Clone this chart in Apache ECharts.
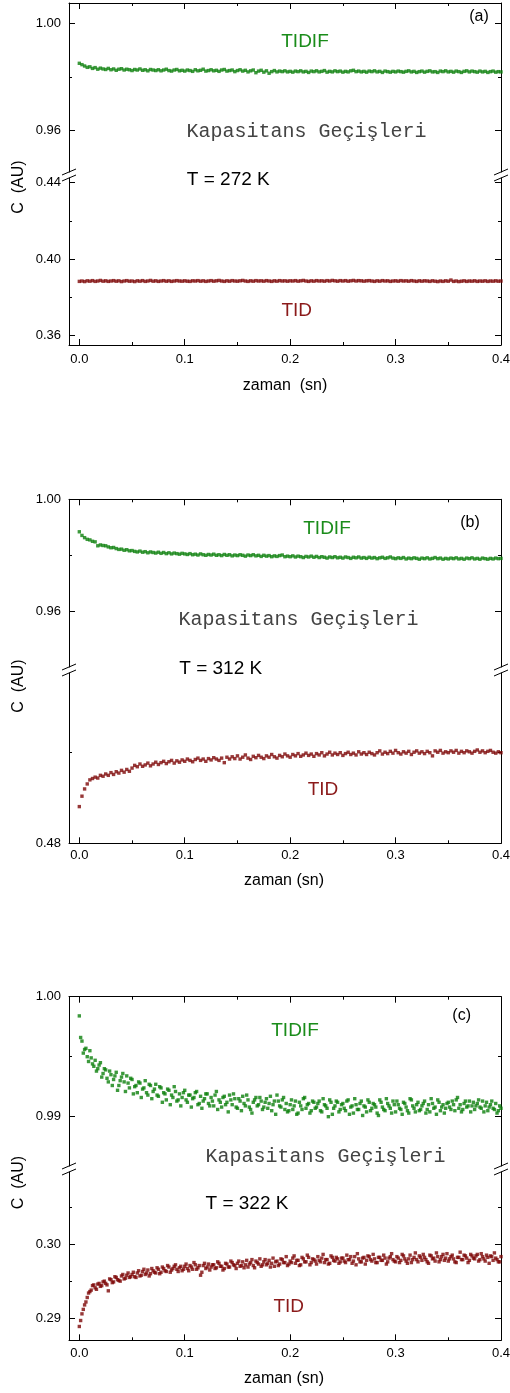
<!DOCTYPE html>
<html><head><meta charset="utf-8">
<script src="https://cdn.jsdelivr.net/npm/echarts@6/dist/echarts.min.js"></script>
<style>html,body{margin:0;padding:0;background:#fff;}#c{width:510px;height:1393px;}</style>
</head><body><div id="c"></div>
<script>
// ---------- DATA ----------
const STEP = 0.0025; // sampling interval (s)
const X_MAJOR = [0, 0.1, 0.2, 0.3, 0.4];
const X_MINOR = [0.05, 0.15, 0.25, 0.35];

const A_UP_MAJOR = [0.96, 1.00], A_UP_MINOR = [0.98];
const A_LO_MAJOR = [0.36, 0.40, 0.44], A_LO_MINOR = [0.38, 0.42];
const B_UP_MAJOR = [0.96, 1.00], B_UP_MINOR = [0.98];
const B_LO_MAJOR = [0.48], B_LO_MINOR = [0.50];
const C_UP_MAJOR = [0.99, 1.00], C_UP_MINOR = [0.995];
const C_LO_MAJOR = [0.29, 0.30], C_LO_MINOR = [0.295, 0.305];

const TIDIF_A = [
0.9851,0.9846,0.9841,0.9836,0.9838,0.9832,0.9835,0.9829,0.9833,0.9830,
0.9828,0.9832,0.9827,0.9830,0.9825,0.9829,0.9831,0.9826,0.9829,0.9827,
0.9824,0.9828,0.9826,0.9830,0.9825,0.9827,0.9823,0.9828,0.9826,0.9824,
0.9827,0.9823,0.9826,0.9829,0.9824,0.9822,0.9826,0.9828,0.9823,0.9825,
0.9822,0.9826,0.9824,0.9821,0.9827,0.9823,0.9825,0.9829,0.9822,0.9824,
0.9827,0.9823,0.9825,0.9821,0.9826,0.9828,0.9822,0.9824,0.9826,0.9820,
0.9824,0.9827,0.9822,0.9825,0.9819,0.9823,0.9826,0.9816,0.9822,0.9825,
0.9818,0.9823,0.9814,0.9820,0.9824,0.9819,0.9822,0.9820,0.9823,0.9819,
0.9821,0.9818,0.9822,0.9820,0.9823,0.9819,0.9821,0.9817,0.9822,0.9820,
0.9823,0.9819,0.9821,0.9824,0.9818,0.9821,0.9819,0.9823,0.9820,0.9822,
0.9818,0.9821,0.9819,0.9823,0.9825,0.9820,0.9822,0.9819,0.9821,0.9818,
0.9822,0.9820,0.9823,0.9819,0.9821,0.9817,0.9822,0.9820,0.9818,0.9821,
0.9819,0.9822,0.9820,0.9818,0.9821,0.9823,0.9819,0.9821,0.9817,0.9820,
0.9822,0.9818,0.9821,0.9823,0.9819,0.9820,0.9817,0.9822,0.9820,0.9823,
0.9819,0.9821,0.9818,0.9822,0.9820,0.9817,0.9821,0.9823,0.9819,0.9822,
0.9820,0.9818,0.9822,0.9819,0.9821,0.9817,0.9820,0.9822,0.9818,0.9820,
0.9819];

const TID_A = [
0.3884,0.3886,0.3883,0.3887,0.3885,0.3888,0.3884,0.3886,0.3889,0.3885,
0.3887,0.3884,0.3886,0.3888,0.3885,0.3887,0.3883,0.3886,0.3888,0.3885,
0.3886,0.3883,0.3887,0.3885,0.3888,0.3884,0.3886,0.3889,0.3885,0.3887,
0.3884,0.3886,0.3888,0.3885,0.3887,0.3884,0.3886,0.3888,0.3886,0.3885,
0.3887,0.3885,0.3884,0.3887,0.3886,0.3888,0.3885,0.3887,0.3884,0.3886,
0.3888,0.3885,0.3887,0.3889,0.3886,0.3884,0.3887,0.3885,0.3888,0.3886,
0.3885,0.3887,0.3889,0.3886,0.3884,0.3887,0.3885,0.3888,0.3886,0.3887,
0.3885,0.3888,0.3886,0.3884,0.3887,0.3885,0.3888,0.3886,0.3887,0.3885,
0.3887,0.3886,0.3888,0.3885,0.3887,0.3889,0.3886,0.3884,0.3887,0.3885,
0.3888,0.3886,0.3887,0.3885,0.3888,0.3886,0.3889,0.3887,0.3885,0.3888,
0.3886,0.3888,0.3885,0.3887,0.3889,0.3886,0.3888,0.3887,0.3885,0.3887,
0.3888,0.3886,0.3884,0.3887,0.3885,0.3888,0.3886,0.3887,0.3884,0.3886,
0.3887,0.3885,0.3888,0.3886,0.3887,0.3885,0.3888,0.3886,0.3884,0.3887,
0.3885,0.3887,0.3886,0.3884,0.3887,0.3885,0.3883,0.3886,0.3884,0.3887,
0.3885,0.3891,0.3884,0.3886,0.3883,0.3885,0.3887,0.3884,0.3886,0.3885,
0.3887,0.3884,0.3886,0.3885,0.3887,0.3884,0.3886,0.3885,0.3887,0.3885,
0.3886];

const TIDIF_B = [
0.9884,0.9871,0.9863,0.9857,0.9855,0.9850,0.9848,0.9834,0.9837,0.9835,
0.9834,0.9830,0.9827,0.9828,0.9824,0.9821,0.9822,0.9818,0.9820,0.9816,
0.9817,0.9814,0.9812,0.9815,0.9811,0.9813,0.9809,0.9812,0.9810,0.9808,
0.9811,0.9807,0.9810,0.9806,0.9809,0.9805,0.9808,0.9806,0.9804,0.9807,
0.9805,0.9803,0.9806,0.9802,0.9804,0.9801,0.9805,0.9802,0.9800,0.9803,
0.9801,0.9804,0.9800,0.9802,0.9799,0.9803,0.9800,0.9802,0.9798,0.9801,
0.9799,0.9802,0.9800,0.9797,0.9801,0.9799,0.9802,0.9798,0.9800,0.9796,
0.9800,0.9797,0.9799,0.9795,0.9798,0.9796,0.9799,0.9801,0.9795,0.9797,
0.9795,0.9798,0.9794,0.9797,0.9795,0.9792,0.9796,0.9794,0.9797,0.9793,
0.9796,0.9792,0.9795,0.9793,0.9790,0.9794,0.9792,0.9795,0.9791,0.9793,
0.9790,0.9794,0.9792,0.9789,0.9793,0.9791,0.9794,0.9790,0.9792,0.9789,
0.9793,0.9790,0.9792,0.9788,0.9791,0.9793,0.9789,0.9791,0.9794,0.9790,
0.9788,0.9791,0.9789,0.9792,0.9787,0.9790,0.9788,0.9791,0.9789,0.9786,
0.9790,0.9788,0.9791,0.9787,0.9789,0.9792,0.9788,0.9790,0.9786,0.9789,
0.9787,0.9790,0.9788,0.9791,0.9787,0.9789,0.9786,0.9790,0.9788,0.9791,
0.9787,0.9789,0.9786,0.9790,0.9788,0.9786,0.9789,0.9787,0.9790,0.9788,
0.9789];

const TID_B = [
0.4881,0.4904,0.4920,0.4931,0.4940,0.4943,0.4946,0.4944,0.4950,0.4948,
0.4953,0.4950,0.4956,0.4952,0.4958,0.4955,0.4961,0.4957,0.4963,0.4959,
0.4966,0.4972,0.4969,0.4975,0.4970,0.4973,0.4977,0.4971,0.4975,0.4979,
0.4974,0.4978,0.4981,0.4976,0.4980,0.4983,0.4977,0.4982,0.4979,0.4984,
0.4981,0.4986,0.4983,0.4980,0.4985,0.4988,0.4983,0.4986,0.4981,0.4987,
0.4984,0.4989,0.4986,0.4983,0.4988,0.4978,0.4990,0.4986,0.4991,0.4987,
0.4993,0.4986,0.4990,0.4995,0.4988,0.4985,0.4992,0.4989,0.4994,0.4990,
0.4987,0.4993,0.4990,0.4996,0.4991,0.4988,0.4994,0.4991,0.4997,0.4993,
0.4990,0.4996,0.4993,0.4998,0.4992,0.4995,0.4999,0.4994,0.4997,0.4992,
0.4998,0.4995,0.5000,0.4993,0.4997,0.5001,0.4995,0.4999,0.4996,0.5000,
0.4994,0.4998,0.5001,0.4996,0.4999,0.4995,0.5002,0.4997,0.5000,0.4996,
0.5001,0.4998,0.4995,0.5000,0.5004,0.4997,0.5001,0.4998,0.5003,0.4999,
0.5005,0.5000,0.4997,0.5002,0.4999,0.5003,0.4996,0.5001,0.5004,0.4999,
0.5002,0.4998,0.5003,0.5000,0.4993,0.5004,0.5001,0.5005,0.4999,0.5002,
0.5000,0.5004,0.5001,0.5005,0.4999,0.5003,0.5000,0.5004,0.5002,0.4999,
0.5003,0.5006,0.5001,0.5004,0.5000,0.5003,0.5005,0.5001,0.4999,0.5002,
0.5000];

// panel (c): samples at t = i*STEP ...
const TIDIF_C = [
0.9984,0.9963,0.9956,0.9950,0.9955,0.9944,0.9947,0.9940,0.9945,0.9936,
0.9939,0.9929,0.9935,0.9931,0.9937,0.9926,0.9933,0.9929,0.9934,0.9924,
0.9931,0.9925,0.9920,0.9928,0.9923,0.9930,0.9918,0.9926,0.9921,0.9927,
0.9917,0.9924,0.9920,0.9914,0.9922,0.9918,0.9925,0.9913,0.9919,0.9916,
0.9922,0.9912,0.9918,0.9915,0.9920,0.9910,0.9917,0.9913,0.9919,0.9911,
0.9916,0.9909,0.9921,0.9914,0.9908,0.9917,0.9912,0.9918,0.9910,0.9915,
0.9907,0.9913,0.9917,0.9909,0.9914,0.9906,0.9912,0.9916,0.9910,0.9913,
0.9908,0.9915,0.9911,0.9905,0.9913,0.9918,0.9909,0.9914,0.9906,0.9904,
0.9910,0.9906,0.9913,0.9903,0.9909,0.9915,0.9907,0.9911,0.9905,0.9912,
0.9908,0.9913,0.9904,0.9910,0.9907,0.9914,0.9902,0.9909,0.9912,0.9906,
0.9911,0.9905,0.9914,0.9908,0.9903,0.9910,0.9906,0.9913,0.9909,0.9904,
0.9912,0.9907,0.9910,0.9903,0.9914,0.9908,0.9905,0.9911,0.9907,0.9913,
0.9904,0.9910,0.9906,0.9912,0.9908,0.9903,0.9914,0.9907,0.9910,0.9905,
0.9909,0.9913,0.9906,0.9904,0.9911,0.9908,0.9914,0.9905,0.9910,0.9907,
0.9912,0.9906,0.9910,0.9914,0.9907,0.9904,0.9911,0.9908,0.9913,0.9909,
0.9906,0.9911,0.9908,0.9913,0.9909,0.9905,0.9910,0.9907,0.9911,0.9905,
0.9907];
// ... and at the midpoints t = (i + 0.5)*STEP
const TIDIF_C_MID = [
0.9966,0.9953,0.9957,0.9946,0.9949,0.9942,0.9938,0.9943,0.9933,0.9940,
0.9932,0.9938,0.9926,0.9934,0.9922,0.9930,0.9936,0.9921,0.9928,0.9932,
0.9919,0.9926,0.9929,0.9916,0.9924,0.9920,0.9927,0.9915,0.9923,0.9918,
0.9925,0.9912,0.9919,0.9923,0.9910,0.9916,0.9921,0.9914,0.9909,0.9920,
0.9914,0.9918,0.9908,0.9916,0.9921,0.9911,0.9907,0.9915,0.9919,0.9909,
0.9913,0.9918,0.9906,0.9912,0.9916,0.9910,0.9904,0.9914,0.9919,0.9908,
0.9915,0.9905,0.9911,0.9918,0.9908,0.9903,0.9914,0.9909,0.9916,0.9906,
0.9912,0.9907,0.9917,0.9910,0.9902,0.9913,0.9908,0.9916,0.9911,0.9905,
0.9914,0.9909,0.9902,0.9912,0.9906,0.9916,0.9910,0.9903,0.9913,0.9907,
0.9911,0.9905,0.9915,0.9909,0.9900,0.9912,0.9907,0.9913,0.9904,0.9910,
0.9907,0.9913,0.9902,0.9909,0.9915,0.9906,0.9911,0.9901,0.9908,0.9914,
0.9905,0.9911,0.9908,0.9901,0.9912,0.9906,0.9915,0.9909,0.9903,0.9910,
0.9913,0.9907,0.9902,0.9911,0.9905,0.9915,0.9909,0.9904,0.9912,0.9906,
0.9911,0.9903,0.9910,0.9915,0.9907,0.9902,0.9912,0.9908,0.9903,0.9911,
0.9908,0.9913,0.9905,0.9916,0.9910,0.9906,0.9913,0.9909,0.9904,0.9912,
0.9909,0.9914,0.9907,0.9904,0.9912,0.9908,0.9913,0.9906,0.9903,0.9909];

const TID_C = [
0.2889,0.2906,0.2918,0.2928,0.2936,0.2944,0.2941,0.2946,0.2943,0.2949,
0.2947,0.2937,0.2952,0.2949,0.2955,0.2951,0.2957,0.2953,0.2958,0.2955,
0.2959,0.2956,0.2961,0.2957,0.2963,0.2959,0.2965,0.2960,0.2964,0.2961,
0.2966,0.2962,0.2967,0.2963,0.2969,0.2965,0.2970,0.2966,0.2968,0.2964,
0.2970,0.2967,0.2971,0.2966,0.2972,0.2968,0.2958,0.2971,0.2967,0.2973,
0.2969,0.2972,0.2968,0.2974,0.2970,0.2967,0.2973,0.2969,0.2975,0.2971,
0.2974,0.2970,0.2976,0.2972,0.2969,0.2975,0.2971,0.2977,0.2973,0.2970,
0.2976,0.2972,0.2978,0.2974,0.2970,0.2977,0.2973,0.2979,0.2975,0.2971,
0.2977,0.2981,0.2974,0.2978,0.2972,0.2980,0.2976,0.2982,0.2975,0.2979,
0.2973,0.2978,0.2981,0.2975,0.2979,0.2974,0.2982,0.2977,0.2980,0.2976,
0.2981,0.2975,0.2979,0.2983,0.2977,0.2972,0.2980,0.2976,0.2982,0.2978,
0.2983,0.2977,0.2980,0.2975,0.2982,0.2978,0.2981,0.2976,0.2983,0.2979,
0.2976,0.2981,0.2978,0.2984,0.2977,0.2980,0.2975,0.2982,0.2979,0.2984,
0.2978,0.2982,0.2976,0.2985,0.2980,0.2977,0.2983,0.2979,0.2986,0.2981,
0.2977,0.2983,0.2980,0.2975,0.2982,0.2979,0.2985,0.2981,0.2978,0.2984,
0.2980,0.2986,0.2979,0.2983,0.2977,0.2982,0.2984,0.2978,0.2981,0.2976,
0.2983];
const TID_C_MID = [
0.2897,0.2912,0.2922,0.2934,0.2938,0.2945,0.2939,0.2947,0.2944,0.2950,
0.2945,0.2953,0.2948,0.2956,0.2952,0.2950,0.2959,0.2954,0.2961,0.2956,
0.2962,0.2955,0.2964,0.2958,0.2966,0.2961,0.2957,0.2967,0.2962,0.2968,
0.2960,0.2969,0.2964,0.2971,0.2962,0.2967,0.2972,0.2963,0.2970,0.2966,
0.2973,0.2964,0.2969,0.2975,0.2966,0.2971,0.2962,0.2974,0.2969,0.2965,
0.2972,0.2967,0.2976,0.2970,0.2965,0.2974,0.2969,0.2977,0.2972,0.2967,
0.2977,0.2971,0.2968,0.2978,0.2973,0.2979,0.2968,0.2975,0.2980,0.2972,
0.2979,0.2974,0.2969,0.2981,0.2976,0.2971,0.2980,0.2975,0.2983,0.2973,
0.2975,0.2984,0.2978,0.2971,0.2982,0.2976,0.2985,0.2972,0.2980,0.2977,
0.2983,0.2976,0.2986,0.2979,0.2973,0.2984,0.2978,0.2982,0.2974,0.2981,
0.2977,0.2985,0.2979,0.2974,0.2983,0.2987,0.2976,0.2981,0.2973,0.2984,
0.2979,0.2986,0.2975,0.2982,0.2978,0.2985,0.2973,0.2981,0.2987,0.2977,
0.2983,0.2975,0.2986,0.2980,0.2974,0.2985,0.2979,0.2988,0.2976,0.2982,
0.2986,0.2979,0.2974,0.2984,0.2981,0.2988,0.2976,0.2983,0.2978,0.2987,
0.2980,0.2985,0.2976,0.2982,0.2989,0.2979,0.2984,0.2975,0.2986,0.2981,
0.2984,0.2977,0.2987,0.2980,0.2985,0.2974,0.2983,0.2988,0.2979,0.2976];

// ---------- LAYOUT / STYLE ----------
const GREEN_PT = '#0b800b', RED_PT = '#7d0606';
const GREEN_TX = '#1a8c1a', RED_TX = '#8b1a1a';
const SANS = '"Liberation Sans", Arial, sans-serif';
const MONO = '"Liberation Mono", "Courier New", monospace';
const XMIN = -0.0098, XMAX = 0.4;
const LEFT = 69, RIGHTX = 501;

const PANELS = [
  { up: {top: 3, bottom: 172, min: 0.94462, max: 1.00756, major: A_UP_MAJOR, minor: A_UP_MINOR},
    lo: {top: 178, bottom: 345, min: 0.35514, max: 0.44246, major: A_LO_MAJOR, minor: A_LO_MINOR},
    upData: [TIDIF_A], loData: [TID_A], labelMargin: 8,
    tag: ['(a)', 479, 16.7], tidif: [305, 41.7], kap: [306.5, 131.7], temp: ['T = 272 K', 228.3, 180],
    tid: [296.7, 310.7], cy: 187, xt: ['zaman  (sn)', 285, 385.7] },
  { up: {top: 499.3, bottom: 667, min: 0.94011, max: 1.00, major: B_UP_MAJOR, minor: B_UP_MINOR},
    lo: {top: 673, bottom: 843.3, min: 0.48, max: 0.51759, major: B_LO_MAJOR, minor: B_LO_MINOR},
    upData: [TIDIF_B], loData: [TID_B], labelMargin: 6,
    tag: ['(b)', 470, 522.3], tidif: [327, 528.3], kap: [298.5, 619.3], temp: ['T = 312 K', 220.7, 668.3],
    tid: [323, 789.3], cy: 686, xt: ['zaman (sn)', 284, 880.7] },
  { up: {top: 996.7, bottom: 1166, min: 0.98589, max: 1.00, major: C_UP_MAJOR, minor: C_UP_MINOR},
    lo: {top: 1172, bottom: 1340.3, min: 0.28704, max: 0.30969, major: C_LO_MAJOR, minor: C_LO_MINOR},
    upData: [TIDIF_C, TIDIF_C_MID], loData: [TID_C, TID_C_MID], labelMargin: 7,
    tag: ['(c)', 461.7, 1016], tidif: [295, 1030.7], kap: [325.5, 1156.7], temp: ['T = 322 K', 247, 1203.3],
    tid: [288.7, 1306.7], cy: 1182.5, xt: ['zaman (sn)', 284, 1378.3] }
];

const LINE = {color: '#000', width: 1};
const grids = [], xAxes = [], yAxes = [], series = [], graphics = [];

function pts(arr, shift) { return arr.map((v, i) => [+((i + shift) * STEP).toFixed(5), v]); }

function addGrid(g, isUpper, labelMargin, dataSets, color) {
  const gi = grids.length;
  grids.push({left: LEFT, right: 510 - RIGHTX, top: g.top, height: g.bottom - g.top,
    containLabel: false, outerBoundsMode: 'none'});
  const pos = isUpper ? 'top' : 'bottom';
  const xi = xAxes.length;
  xAxes.push({gridIndex: gi, type: 'value', min: XMIN, max: XMAX, position: pos,
    axisLine: {show: true, onZero: false, lineStyle: LINE},
    axisTick: {show: true, inside: true, length: 6, customValues: X_MAJOR, lineStyle: LINE},
    axisLabel: {show: !isUpper, customValues: X_MAJOR, formatter: v => v.toFixed(1), margin: labelMargin,
      fontSize: 13, color: '#000', fontFamily: SANS, hideOverlap: false},
    splitLine: {show: false}});
  xAxes.push({gridIndex: gi, type: 'value', min: XMIN, max: XMAX, position: pos,
    axisLine: {show: false, onZero: false},
    axisTick: {show: true, inside: true, length: 3, customValues: X_MINOR, lineStyle: LINE},
    axisLabel: {show: false}, splitLine: {show: false}});
  const yi = yAxes.length;
  ['left', 'right'].forEach(side => {
    yAxes.push({gridIndex: gi, type: 'value', min: g.min, max: g.max, position: side, offset: 0,
      axisLine: {show: true, onZero: false, lineStyle: LINE},
      axisTick: {show: true, inside: true, length: 6, customValues: g.major, lineStyle: LINE},
      axisLabel: {show: side === 'left', customValues: g.major, formatter: v => v.toFixed(2), margin: 8,
        fontSize: 13, color: '#000', fontFamily: SANS, hideOverlap: false},
      splitLine: {show: false}});
    yAxes.push({gridIndex: gi, type: 'value', min: g.min, max: g.max, position: side, offset: 0,
      axisLine: {show: false, onZero: false},
      axisTick: {show: true, inside: true, length: 3, customValues: g.minor, lineStyle: LINE},
      axisLabel: {show: false}, splitLine: {show: false}});
  });
  dataSets.forEach((d, k) => {
    series.push({type: 'scatter', xAxisIndex: xi, yAxisIndex: yi, symbol: 'rect', symbolSize: 3.4,
      itemStyle: {color: color}, data: pts(d, k * 0.5), silent: true, animation: false});
  });
}

function txt(t, x, y, size, color, font, rot) {
  graphics.push({type: 'text', x: x, y: y, rotation: rot || 0, silent: true, z: 100,
    style: {text: t, fill: color, font: size + 'px ' + font, textAlign: 'center', textVerticalAlign: 'middle'}});
}

PANELS.forEach(p => {
  addGrid(p.up, true, p.labelMargin, p.upData, GREEN_PT);
  addGrid(p.lo, false, p.labelMargin, p.loData, RED_PT);
  // axis break marks
  [LEFT, RIGHTX].forEach(x => {
    [p.up.bottom, p.lo.top].forEach(y => {
      graphics.push({type: 'line', silent: true, z: 100,
        shape: {x1: x - 7, y1: y + 3, x2: x + 7, y2: y - 3}, style: {stroke: '#000', lineWidth: 1}});
    });
  });
  txt(p.tag[0], p.tag[1], p.tag[2], 16, '#000', SANS);
  txt('TIDIF', p.tidif[0], p.tidif[1], 19, GREEN_TX, SANS);
  txt('Kapasitans Geçişleri', p.kap[0], p.kap[1], 20, '#444', MONO);
  txt(p.temp[0], p.temp[1], p.temp[2], 19, '#000', SANS);
  txt('TID', p.tid[0], p.tid[1], 19, RED_TX, SANS);
  txt('C  (AU)', 18.3, p.cy, 16, '#000', SANS, Math.PI / 2);
  txt(p.xt[0], p.xt[1], p.xt[2], 16, '#000', SANS);
});

const chart = echarts.init(document.getElementById('c'), null, {renderer: 'canvas'});
chart.setOption({
  animation: false,
  backgroundColor: '#fff',
  grid: grids, xAxis: xAxes, yAxis: yAxes, series: series,
  graphic: graphics
});
</script></body></html>
